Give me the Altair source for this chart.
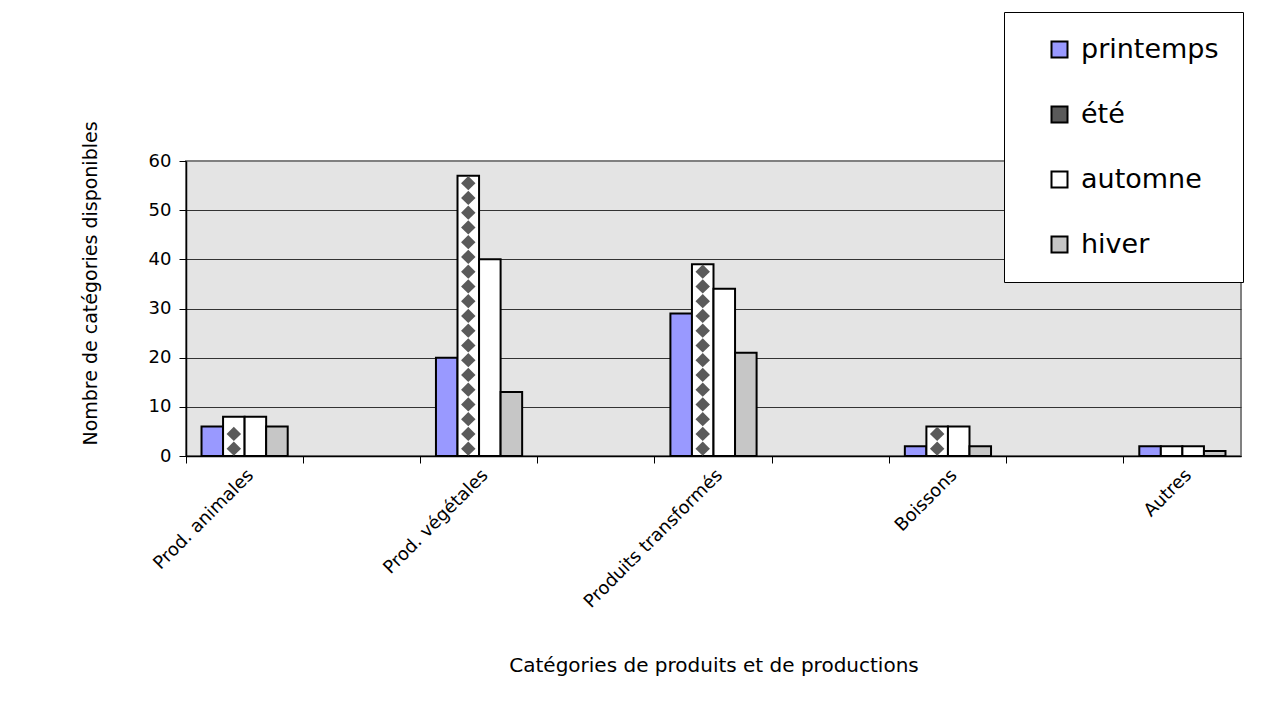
import altair as alt
import pandas as pd

categories = ["Prod. animales", "Prod. végétales", "Produits transformés", "Boissons", "Autres"]
seasons = ["printemps", "été", "automne", "hiver"]
printemps = [6, 20, 29, 2, 2]
ete = [8, 57, 39, 6, 2]
automne = [8, 40, 34, 6, 2]
hiver = [6, 13, 21, 2, 1]
y_ticks = [0, 10, 20, 30, 40, 50, 60]
season_colors = ["#9999FF", "#5a5a5a", "#ffffff", "#c6c6c6"]

# 9 bands: each category is followed by an empty slot (as in the original)
slots = []
for i, c in enumerate(categories):
    slots.append(c)
    if i < len(categories) - 1:
        slots.append(f"gap{i}")

rows = []
for season, vals in zip(seasons, [printemps, ete, automne, hiver]):
    for c, v in zip(categories, vals):
        rows.append({"categorie": c, "saison": season, "valeur": v})
df = pd.DataFrame(rows)

font = "DejaVu Sans"

x_scale = alt.Scale(domain=slots, paddingInner=0, paddingOuter=0)
off_scale = alt.Scale(domain=seasons, paddingInner=0, paddingOuter=0.72)
y_scale = alt.Scale(domain=[0, 60], nice=False)

x_axis = alt.Axis(
    title="Catégories de produits et de productions",
    titleFont=font, titleFontSize=20, titleFontWeight="normal", titleColor="black",
    titleX=527.5, titleY=209, titleBaseline="middle", titleAlign="center",
    values=slots,
    labelAngle=-45, labelFont=font, labelFontSize=18, labelColor="black",
    bandPosition=0, labelOffset=0, labelPadding=3, labelOverlap=False, labelLimit=400,
    labelExpr="slice(datum.label, 0, 3) == 'gap' ? '' : datum.label",
    domainColor="black", domainWidth=1.5, tickColor="black", tickSize=7,
    grid=False,
)
y_axis = alt.Axis(
    title="Nombre de catégories disponibles",
    titleFont=font, titleFontSize=19, titleFontWeight="normal", titleColor="black",
    titleX=-96, titleY=122, titleAngle=-90, titleAlign="center", titleBaseline="middle",
    values=y_ticks, labelFont=font, labelFontSize=18, labelColor="black", labelPadding=8,
    domainColor="black", domainWidth=1.5, tickColor="black", tickSize=7,
    grid=True,
    gridColor=alt.condition("datum.value == 60", alt.value("#808080"), alt.value("#333333")),
    gridWidth=1,
)

legend = alt.Legend(
    title=None, orient="none", legendX=818, legendY=-149,
    symbolType="square", symbolSize=256, symbolStrokeColor="black", symbolStrokeWidth=2,
    symbolOffset=18, labelOffset=8, labelFont=font, labelFontSize=27, labelColor="black",
    labelLimit=400,
    rowPadding=37, padding=24, fillColor="white", strokeColor="black",
)

bars = alt.Chart(df).mark_bar(stroke="black", strokeWidth=2).encode(
    x=alt.X("categorie:N", scale=x_scale, axis=x_axis, sort=slots),
    xOffset=alt.XOffset("saison:N", scale=off_scale, sort=seasons),
    y=alt.Y("valeur:Q", scale=y_scale, axis=y_axis),
    fill=alt.condition(
        "datum.saison == 'été'",
        alt.value("#ffffff"),
        alt.Fill("saison:N", scale=alt.Scale(domain=seasons, range=season_colors), legend=legend),
    ),
)

diamonds = (
    alt.Chart(df)
    .transform_filter("datum.saison == 'été'")
    .transform_calculate(motif="sequence(1.5, datum.valeur - 1, 3)")
    .transform_flatten(["motif"])
    .mark_point(shape="diamond", filled=True, color="#5a5a5a", size=210, opacity=1)
    .encode(
        x=alt.X("categorie:N", scale=x_scale, axis=x_axis, sort=slots),
        xOffset=alt.XOffset("saison:N", scale=off_scale, sort=seasons),
        y=alt.Y("motif:Q", scale=y_scale, axis=y_axis),
    )
)

chart = (
    alt.layer(bars, diamonds)
    .properties(
        width=1055, height=295,
        autosize=alt.AutoSizeParams(type="none"),
        padding={"left": 178, "top": 153, "right": 18, "bottom": 263},
        background="white",
    )
    .configure_view(fill="#e4e4e4", stroke="#808080", strokeWidth=2)
)

chart.save("out.html", embed_options={"renderer": "svg", "actions": False})
